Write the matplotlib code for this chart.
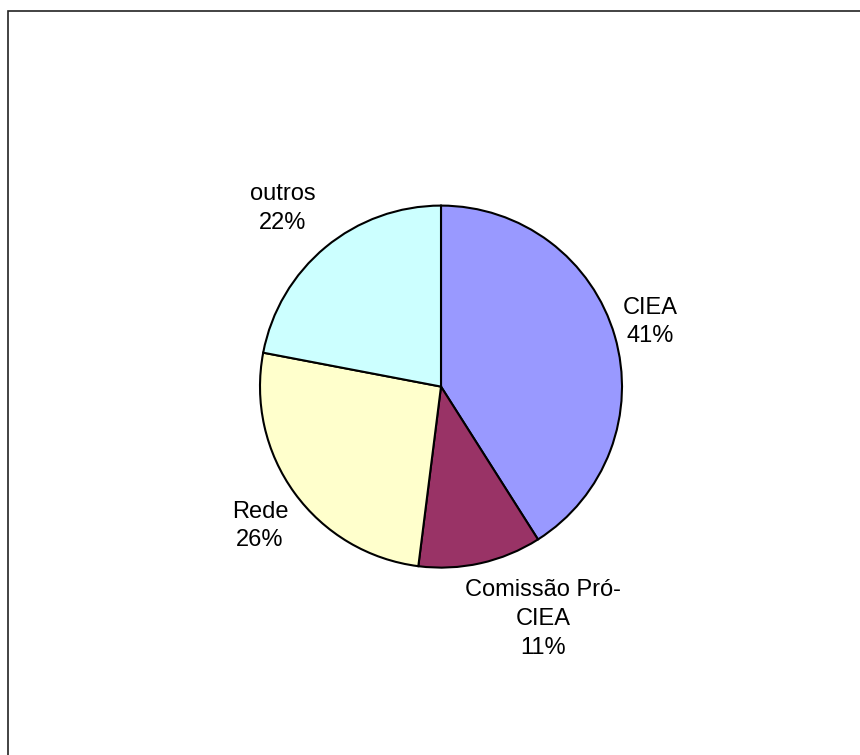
import matplotlib.pyplot as plt
from matplotlib.patches import Rectangle

plt.rcParams["font.family"] = ["Liberation Sans", "DejaVu Sans"]

# dados do gráfico
categorias = ["CIEA", "Comissão Pró-\nCIEA", "Rede", "outros"]
percentuais = [41, 11, 26, 22]
cores = ["#9999FF", "#993366", "#FFFFCC", "#CCFFFF"]

# posição dos rótulos (em raios, relativo ao centro)
pos_rotulos = [(1.155, 0.357), (0.564, -1.284), (-1.0, -0.770), (-0.873, 0.986)]

W, H = 860, 755
fig = plt.figure(figsize=(W / 100, H / 100), dpi=100)
fig.patch.set_facecolor("white")

cx, cy, r = 441, 386.6, 181
ax = fig.add_axes([(cx - r) / W, (H - cy - r) / H, 2 * r / W, 2 * r / H])

ax.pie(
    percentuais,
    colors=cores,
    startangle=90,
    counterclock=False,
    wedgeprops=dict(edgecolor="black", linewidth=1.5),
)
ax.set_xlim(-1, 1)
ax.set_ylim(-1, 1)
ax.set_aspect("equal")
ax.axis("off")

for nome, pct, (x, y) in zip(categorias, percentuais, pos_rotulos):
    ax.text(x, y, f"{nome}\n{pct}%", ha="center", va="center",
            fontsize=17, linespacing=1.4, color="black")

# moldura (só aparecem as bordas esquerda e superior)
moldura = Rectangle((7.5 / W, -0.1), 1.2, 1 - 11 / H + 0.1,
                    transform=fig.transFigure, fill=False,
                    edgecolor="#222222", linewidth=1.2)
fig.add_artist(moldura)

fig.savefig("out.png", dpi=100)
